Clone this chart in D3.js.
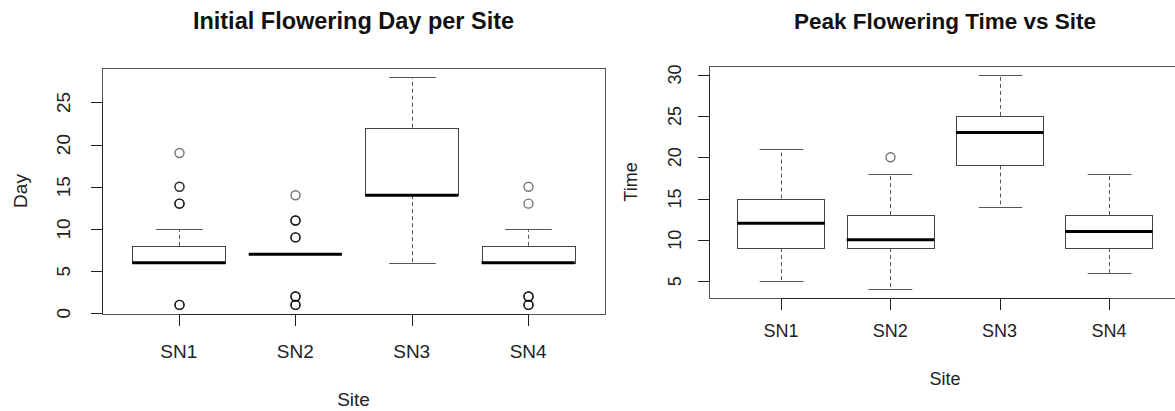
<!DOCTYPE html>
<html>
<head>
<meta charset="utf-8">
<script src="https://cdn.jsdelivr.net/npm/d3@7"></script>
<style>
  body { margin: 0; background: #fff; }
  svg { display: block; font-family: "Liberation Sans", Arial, sans-serif; }
</style>
</head>
<body>
<svg id="chart" width="1175" height="411"></svg>
<script>
// sites on the x axis
const sites = ['SN1', 'SN2', 'SN3', 'SN4'];

// initial flowering day (left plot)
const dayLow = [6, 7, 6, 6];
const dayQ1 = [6, 7, 14, 6];
const dayMedian = [6, 7, 14, 6];
const dayQ3 = [8, 7, 22, 8];
const dayHigh = [10, 7, 28, 10];
const dayOutliers = [
  [1, 1, 1, 13, 13, 13, 15, 15, 19],
  [1, 1, 1, 2, 2, 2, 9, 9, 9, 11, 11, 11, 14],
  [],
  [1, 1, 1, 2, 2, 2, 13, 15]
];
const dayTicks = [0, 5, 10, 15, 20, 25];

// peak flowering time (right plot)
const timeLow = [5, 4, 14, 6];
const timeQ1 = [9, 9, 19, 9];
const timeMedian = [12, 10, 23, 11];
const timeQ3 = [15, 13, 25, 13];
const timeHigh = [21, 18, 30, 18];
const timeOutliers = [[], [20], [], []];
const timeTicks = [5, 10, 15, 20, 25, 30];

const svg = d3.select('#chart');
svg.append('rect').attr('width', 1175).attr('height', 411).attr('fill', '#fff');

function boxplot(opts) {
  const { left, right, top, bottom, low, q1, med, q3, high, outliers, ticks,
          title, ylab, fs, titleFs, tickLabX, yLabX, xTickY, xLabY } = opts;
  const g = svg.append('g');

  // R style ranges: 4% padding on both axes
  const all = d3.merge([low, high, d3.merge(outliers)]);
  const lo = d3.min(all), hi = d3.max(all), pad = (hi - lo) * 0.04;
  const y = d3.scaleLinear().domain([lo - pad, hi + pad]).range([bottom, top]);
  const x = d3.scaleLinear().domain([0.34, 4.66]).range([left, right]);
  const step = x(2) - x(1);
  const bw = step * 0.8;

  // frame
  g.append('rect')
    .attr('x', left + 0.5).attr('y', top + 0.5)
    .attr('width', right - left).attr('height', bottom - top)
    .attr('fill', 'none').attr('stroke', '#555').attr('stroke-width', 1);

  const boxes = g.selectAll('g.box')
    .data(sites.map((s, i) => ({ s, i, low: low[i], q1: q1[i], med: med[i], q3: q3[i], high: high[i], out: outliers[i] })))
    .enter().append('g').attr('class', 'box');

  boxes.each(function (d) {
    const b = d3.select(this);
    const cx = Math.round(x(d.i + 1)) + 0.5;
    // whiskers + staples
    [[d.q3, d.high], [d.q1, d.low]].forEach(([a, c]) => {
      if (a === c) return;
      b.append('line')
        .attr('x1', cx).attr('x2', cx)
        .attr('y1', y(a)).attr('y2', y(c))
        .attr('stroke', '#555').attr('stroke-dasharray', '4,3');
      b.append('line')
        .attr('x1', cx - bw / 4).attr('x2', cx + bw / 4)
        .attr('y1', Math.round(y(c)) + 0.5).attr('y2', Math.round(y(c)) + 0.5)
        .attr('stroke', '#555');
    });
    if (d.q3 > d.q1) {
      b.append('rect')
        .attr('x', Math.round(x(d.i + 1) - bw / 2) + 0.5)
        .attr('y', Math.round(y(d.q3)) + 0.5)
        .attr('width', Math.round(bw))
        .attr('height', Math.round(y(d.q1)) - Math.round(y(d.q3)))
        .attr('fill', '#fff').attr('stroke', '#444');
    }
    b.append('line')
      .attr('x1', x(d.i + 1) - bw / 2).attr('x2', x(d.i + 1) + bw / 2)
      .attr('y1', y(d.med)).attr('y2', y(d.med))
      .attr('stroke', '#000').attr('stroke-width', 3);
    // outliers, repeated values overlap and darken
    b.selectAll('circle').data(d.out).enter().append('circle')
      .attr('cx', cx).attr('cy', v => y(v)).attr('r', 4.5)
      .attr('fill', 'none').attr('stroke', '#000')
      .attr('stroke-opacity', 0.55).attr('stroke-width', 1.4);
  });

  // y axis
  g.append('line')
    .attr('x1', left + 0.5).attr('x2', left + 0.5)
    .attr('y1', y(ticks[0])).attr('y2', y(ticks[ticks.length - 1]))
    .attr('stroke', '#222');
  ticks.forEach(t => {
    const yy = Math.round(y(t)) + 0.5;
    g.append('line').attr('x1', left - 11).attr('x2', left)
      .attr('y1', yy).attr('y2', yy).attr('stroke', '#222');
    g.append('text')
      .attr('transform', `translate(${tickLabX},${y(t)}) rotate(-90)`)
      .attr('text-anchor', 'middle').attr('dy', '0.35em')
      .attr('font-size', fs).attr('fill', '#222').text(t);
  });

  // x axis
  g.append('line')
    .attr('x1', x(1)).attr('x2', x(4))
    .attr('y1', bottom + 0.5).attr('y2', bottom + 0.5).attr('stroke', '#222');
  sites.forEach((s, i) => {
    const xx = Math.round(x(i + 1)) + 0.5;
    g.append('line').attr('x1', xx).attr('x2', xx)
      .attr('y1', bottom).attr('y2', bottom + 12).attr('stroke', '#222');
    g.append('text').attr('x', x(i + 1)).attr('y', xTickY)
      .attr('text-anchor', 'middle').attr('font-size', fs).attr('fill', '#222').text(s);
  });

  const mid = (left + right) / 2;
  g.append('text').attr('x', mid).attr('y', 29)
    .attr('text-anchor', 'middle').attr('font-size', titleFs)
    .attr('font-weight', 'bold').attr('fill', '#111').text(title);
  g.append('text').attr('x', mid).attr('y', xLabY)
    .attr('text-anchor', 'middle').attr('font-size', fs).attr('fill', '#222').text('Site');
  g.append('text')
    .attr('transform', `translate(${yLabX},${(top + bottom) / 2}) rotate(-90)`)
    .attr('text-anchor', 'middle').attr('dy', '0.35em')
    .attr('font-size', fs).attr('fill', '#222').text(ylab);
}

boxplot({
  left: 102, right: 605, top: 68, bottom: 314,
  low: dayLow, q1: dayQ1, med: dayMedian, q3: dayQ3, high: dayHigh,
  outliers: dayOutliers, ticks: dayTicks,
  title: 'Initial Flowering Day per Site', ylab: 'Day', fs: 19, titleFs: 23.5,
  tickLabX: 63, yLabX: 20, xTickY: 358, xLabY: 406
});

boxplot({
  left: 709, right: 1181, top: 66, bottom: 298,
  low: timeLow, q1: timeQ1, med: timeMedian, q3: timeQ3, high: timeHigh,
  outliers: timeOutliers, ticks: timeTicks,
  title: 'Peak Flowering Time vs Site', ylab: 'Time', fs: 18, titleFs: 22.5,
  tickLabX: 675, yLabX: 631, xTickY: 337, xLabY: 385
});
</script>
</body>
</html>
